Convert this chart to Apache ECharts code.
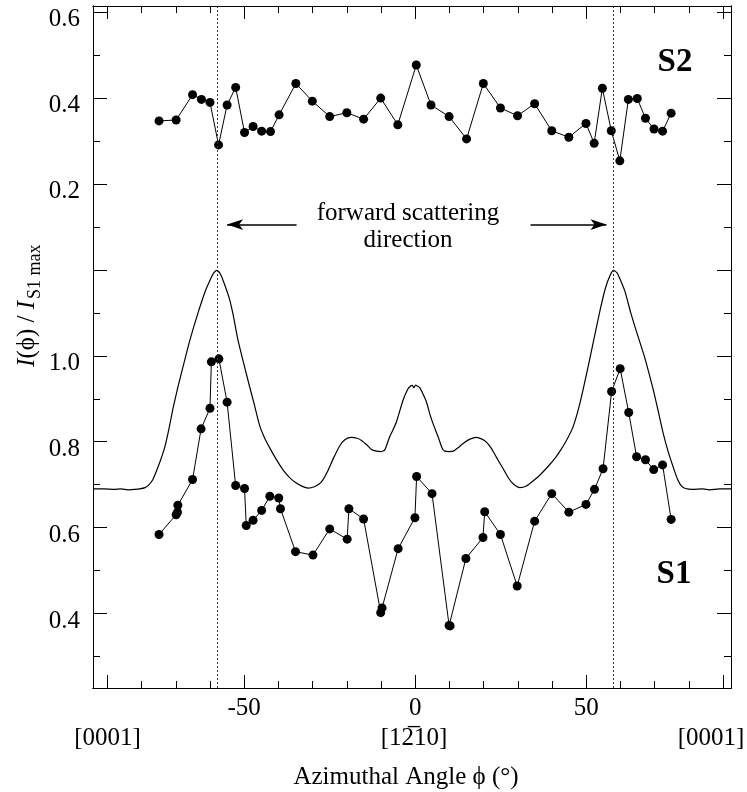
<!DOCTYPE html>
<html><head><meta charset="utf-8">
<script src="https://cdn.jsdelivr.net/npm/echarts@6/dist/echarts.min.js"></script>
<style>html,body{margin:0;padding:0;background:#fff}#c{width:747px;height:792px}</style>
</head><body><div id="c"></div>
<script>
// ---- data ----
const S2_x = [-74.9,-69.9,-65.1,-62.5,-60.0,-57.5,-55.0,-52.5,-49.9,-47.4,-44.9,-42.3,-39.8,-34.9,-30.1,-25.0,-20.0,-15.1,-10.1,-5.1,0.3,4.6,9.9,15.0,19.9,24.9,29.9,34.9,39.9,44.9,49.9,52.3,54.7,57.3,59.8,62.3,64.9,67.3,69.8,72.3,74.8];
const S2_y = [0.347,0.349,0.408,0.397,0.390,0.291,0.384,0.425,0.320,0.334,0.323,0.322,0.361,0.434,0.393,0.357,0.366,0.351,0.400,0.338,0.477,0.384,0.357,0.305,0.434,0.377,0.359,0.387,0.324,0.309,0.341,0.295,0.423,0.324,0.254,0.397,0.399,0.353,0.328,0.323,0.365];
const S1_x = [-74.9,-69.9,-69.5,-69.4,-65.1,-62.6,-60.0,-59.6,-57.4,-55.0,-52.5,-49.9,-49.4,-47.4,-44.9,-42.5,-39.9,-39.4,-35.0,-29.9,-25.0,-19.9,-19.4,-15.1,-10.1,-9.7,-5.0,-0.1,0.4,4.9,9.9,10.2,14.8,19.8,20.3,24.9,29.8,34.9,39.9,44.9,49.9,52.4,54.9,57.4,59.9,62.4,64.7,67.3,69.7,72.3,74.8];
const S1_y = [0.584,0.630,0.636,0.652,0.712,0.830,0.878,0.986,0.993,0.892,0.698,0.691,0.605,0.617,0.640,0.673,0.669,0.644,0.544,0.536,0.597,0.573,0.644,0.620,0.402,0.413,0.551,0.623,0.719,0.679,0.372,0.371,0.528,0.577,0.637,0.584,0.464,0.615,0.679,0.636,0.654,0.689,0.737,0.917,0.970,0.868,0.765,0.758,0.735,0.746,0.619];
const calc_x = [-94.2,-91,-88,-86,-84,-82,-80.6,-79,-77.8,-76.7,-75,-73.2,-72,-70.8,-69.3,-67.9,-65.9,-63.5,-61.3,-60,-59,-58,-57,-56,-54.4,-53.3,-51.8,-48.9,-47,-45.5,-44,-42.5,-40.5,-38.7,-36.8,-35,-33,-31.3,-29.5,-28,-27,-25.5,-24,-22.1,-20.5,-18.7,-17,-15.7,-14.2,-12.8,-11.3,-10,-8.9,-7.5,-6.5,-5.5,-3.6,-2.2,-1.6,-0.9,-0.4,0.1,0.7,1.3,2.2,3.3,4.2,5.2,6.7,7.8,8.6,10,11.1,12.5,14.0,16,17.9,19.5,20.8,22.3,23.7,25.7,27.2,28.6,30.6,32.5,34.5,36.4,39,41,42.3,44,46.1,48,50,52,54,55.5,57,58,59,60,61.3,63,65,67,69.6,71,72.5,74,75.4,76.7,77.8,79,81,84,86,89,92.3];
const calc_y = [0.690,0.690,0.689,0.690,0.688,0.689,0.690,0.693,0.700,0.712,0.745,0.788,0.830,0.878,0.930,0.974,1.036,1.100,1.152,1.176,1.192,1.199,1.191,1.172,1.135,1.098,1.036,0.943,0.885,0.838,0.808,0.785,0.757,0.735,0.717,0.705,0.696,0.692,0.695,0.702,0.711,0.733,0.760,0.790,0.805,0.810,0.808,0.803,0.793,0.782,0.778,0.777,0.781,0.811,0.828,0.846,0.896,0.922,0.928,0.931,0.926,0.932,0.929,0.926,0.912,0.892,0.866,0.842,0.811,0.786,0.778,0.777,0.778,0.786,0.796,0.806,0.810,0.806,0.799,0.784,0.764,0.737,0.716,0.702,0.693,0.697,0.709,0.722,0.744,0.763,0.778,0.800,0.834,0.885,0.955,1.030,1.105,1.155,1.188,1.199,1.193,1.176,1.150,1.100,1.048,0.998,0.920,0.872,0.819,0.775,0.741,0.712,0.697,0.691,0.689,0.690,0.688,0.690,0.690];
const S2_OFFSET = 1.2;            // S2 panel is drawn shifted up by this amount
const forwardAngles = [-58, 58];
const xMajorTicks = [-90,-50,0,50,90];
const xMinorTicks = [-80,-70,-60,-40,-30,-20,-10,10,20,30,40,60,70,80];
const xTickLabels = [-50,0,50];
const yMajorTicks = [0.4,0.6,0.8,1.0,1.2,1.4,1.6,1.8];
const yMinorTicks = [0.3,0.5,0.7,0.9,1.1,1.3,1.5,1.7];
const yTickLabels = [0.4,0.6,0.8,1.0,1.4,1.6,1.8];
const directionLabels = ['[0001]','[12\u030510]','[0001]'];
const arrowLeft = [[-34.7,1.3055],[-55.0,1.3055]];
const arrowRight = [[33.7,1.3055],[55.9,1.3055]];

// ---- chart ----
const X_MIN = -94.2, X_MAX = 92.3, Y_MIN = 0.2265, Y_MAX = 1.8145;
const FONT = '"Liberation Serif","Times New Roman",serif';
const black = '#000';

function xAx(pos, ticks, len, labels) {
  return {
    type:'value', position:pos, min:X_MIN, max:X_MAX,
    axisLine:{show:true, onZero:false, lineStyle:{color:black, width:1}},
    axisTick:{show:true, inside:true, length:len, customValues:ticks, lineStyle:{color:black, width:1}},
    axisLabel: labels ? {show:true, customValues:labels, color:black, fontFamily:FONT, fontSize:25, margin:8}
                      : {show:false, customValues:ticks},
    splitLine:{show:false}
  };
}
function yAx(pos, ticks, len, labels) {
  return {
    type:'value', position:pos, min:Y_MIN, max:Y_MAX,
    axisLine:{show:true, onZero:false, lineStyle:{color:black, width:1}},
    axisTick:{show:true, inside:true, length:len, customValues:ticks, lineStyle:{color:black, width:1}},
    axisLabel: labels ? {show:true, customValues:labels, color:black, fontFamily:FONT, fontSize:25, margin:13,
                         verticalAlign:'top', lineHeight:15,
                         formatter: v => (v > 1.3 ? v - S2_OFFSET : v).toFixed(1)}
                      : {show:false, customValues:ticks},
    splitLine:{show:false}
  };
}

const chart = echarts.init(document.getElementById('c'), null, {renderer:'canvas'});
const option = {
  animation:false,
  backgroundColor:'#fff',
  grid:{left:93, right:16, top:6, bottom:104, containLabel:false, outerBoundsMode:'none'},
  xAxis:[xAx('bottom', xMajorTicks, 13, xTickLabels), xAx('bottom', xMinorTicks, 7, null),
         xAx('top', xMajorTicks, 13, null), xAx('top', xMinorTicks, 7, null)],
  yAxis:[yAx('left', yMajorTicks, 14, yTickLabels), yAx('left', yMinorTicks, 7, null),
         yAx('right', yMajorTicks, 14, null), yAx('right', yMinorTicks, 7, null)],
  series:[
    {
      name:'calc', type:'line', xAxisIndex:0, yAxisIndex:0,
      data: calc_x.map((x,i)=>[x, calc_y[i]]),
      showSymbol:false, symbol:'none', smooth:0.2,
      lineStyle:{color:black, width:1.2}, z:3,
      markLine:{
        silent:true, symbol:'none', animation:false,
        label:{show:false},
        lineStyle:{color:'#333', width:1, type:[2,2]},
        data: forwardAngles.map(a => ({xAxis:a}))
      }
    },
    {
      name:'arrows', type:'line', xAxisIndex:0, yAxisIndex:0, data:[],
      markLine:{
        silent:true, animation:false, label:{show:false},
        symbol:['none','arrow'], symbolSize:[8,16],
        lineStyle:{color:black, width:1.5, type:'solid'},
        data:[
          [{coord:arrowLeft[0]},{coord:arrowLeft[1]}],
          [{coord:arrowRight[0]},{coord:arrowRight[1]}]
        ]
      }
    },
    {
      name:'S2', type:'line', xAxisIndex:0, yAxisIndex:0,
      data: S2_x.map((x,i)=>[x, S2_y[i] + S2_OFFSET]),
      symbol:'circle', symbolSize:9, showAllSymbol:true,
      itemStyle:{color:black}, lineStyle:{color:black, width:1}, z:4
    },
    {
      name:'S1', type:'line', xAxisIndex:0, yAxisIndex:0,
      data: S1_x.map((x,i)=>[x, S1_y[i]]),
      symbol:'circle', symbolSize:9, showAllSymbol:true,
      itemStyle:{color:black}, lineStyle:{color:black, width:1}, z:4
    }
  ],
  graphic:[
    {type:'text', x:408, y:227, style:{text:'forward scattering\ndirection', font:'25px '+FONT, fill:black,
      align:'center', verticalAlign:'middle', textAlign:'center', textVerticalAlign:'middle', lineHeight:27}},
    {type:'text', x:675, y:62, style:{text:'S2', font:'bold 33px '+FONT, fill:black,
      align:'center', verticalAlign:'middle', textAlign:'center', textVerticalAlign:'middle'}},
    {type:'text', x:674, y:574, style:{text:'S1', font:'bold 33px '+FONT, fill:black,
      align:'center', verticalAlign:'middle', textAlign:'center', textVerticalAlign:'middle'}},
    {type:'text', x:107.5, y:738, style:{text:directionLabels[0], font:'25px '+FONT, fill:black,
      align:'center', verticalAlign:'middle', textAlign:'center', textVerticalAlign:'middle'}},
    {type:'text', x:414, y:738, style:{text:directionLabels[1], font:'25px '+FONT, fill:black,
      align:'center', verticalAlign:'middle', textAlign:'center', textVerticalAlign:'middle'}},
    {type:'text', x:711, y:738, style:{text:directionLabels[2], font:'25px '+FONT, fill:black,
      align:'center', verticalAlign:'middle', textAlign:'center', textVerticalAlign:'middle'}},
    {type:'text', x:406, y:777, style:{text:'Azimuthal Angle \u03D5 (\u00B0)', font:'25px '+FONT, fill:black,
      align:'center', verticalAlign:'middle', textAlign:'center', textVerticalAlign:'middle'}},
    {type:'text', x:27, y:301, rotation:Math.PI/2, style:{text:'{i|I}(\u03D5) / {i|I}', font:'25px '+FONT, fill:black,
      align:'right', verticalAlign:'middle', textAlign:'right', textVerticalAlign:'middle',
      rich:{i:{fontStyle:'italic', fontFamily:FONT, fontSize:25, fill:black}}}},
    {type:'text', x:35, y:299, rotation:Math.PI/2, style:{text:'S1 max', font:'18px '+FONT, fill:black,
      align:'left', verticalAlign:'middle', textAlign:'left', textVerticalAlign:'middle'}}
  ]
};
chart.setOption(option);
</script>
</body></html>
